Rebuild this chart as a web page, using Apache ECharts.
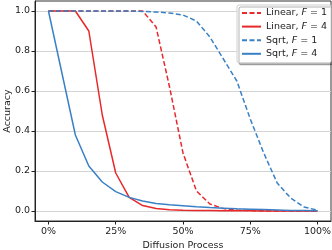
<!DOCTYPE html>
<html>
<head>
<meta charset="utf-8">
<script src="https://cdn.jsdelivr.net/npm/echarts@6/dist/echarts.min.js"></script>
<style>
html,body{margin:0;padding:0;background:#fff;}
#chart{width:332px;height:250px;}
</style>
</head>
<body>
<div id="chart"></div>
<script>
// Diffusion process (%)
var progress = [0,5,10,15,20,25,30,35,40,45,50,55,60,65,70,75,80,85,90,95,100];
var linearF1 = [1,1,1,1,1,1,1,1,0.92,0.62,0.29,0.10,0.035,0.012,0.005,0.002,0.001,0,0,0,0];
var linearF4 = [1,1,1,0.90,0.48,0.19,0.068,0.027,0.012,0.006,0.004,0.003,0.002,0.001,0.001,0.001,0,0,0,0,0];
var sqrtF1 = [1,1,1,1,1,1,1,0.998,0.995,0.99,0.98,0.95,0.87,0.76,0.65,0.46,0.29,0.14,0.065,0.02,0.004];
var sqrtF4 = [1,0.69,0.38,0.225,0.145,0.097,0.068,0.05,0.038,0.031,0.026,0.021,0.017,0.014,0.011,0.009,0.007,0.005,0.003,0.002,0.001];
var xTicks = [0,25,50,75,100];
var yTicks = [0,0.2,0.4,0.6,0.8,1.0];
var seriesNames = ['Linear, F = 1','Linear, F = 4','Sqrt, F = 1','Sqrt, F = 4'];

function pairs(ys){ return progress.map(function(x,i){ return [x, ys[i]]; }); }

var RED = '#e8282b', BLUE = '#3a80c6';
var FONT = 'DejaVu Sans';
var chart = echarts.init(document.getElementById('chart'), null, {renderer:'canvas'});
function mk(name, ys, color, dashed){
  return {
    name: name, type:'line', data: pairs(ys), symbol:'none', smooth:false,
    lineStyle:{color:color, width:1.5, type: dashed ? [5,2.5] : 'solid'},
    itemStyle:{color:color}, emphasis:{disabled:true}, animation:false
  };
}
chart.setOption({
  animation:false,
  textStyle:{fontFamily:FONT},
  grid:{left:35, right:1, top:1, bottom:29, containLabel:false, outerBoundsMode:'none',
    show:true, borderColor:'#333', borderWidth:1, backgroundColor:'transparent'},
  xAxis:{
    type:'value', min:-5, max:105,
    name:'Diffusion Process', nameLocation:'middle', nameGap:20, nameMoveOverlap:false,
    nameTextStyle:{fontSize:9.5, color:'#222', fontFamily:FONT},
    axisLine:{show:true, onZero:false, lineStyle:{color:'#222', width:1}},
    axisTick:{show:true, length:3.5, inside:false, customValues:xTicks, lineStyle:{color:'#222'}},
    axisLabel:{customValues:xTicks, fontSize:9.5, color:'#222', margin:6, fontFamily:FONT,
      formatter:function(v){return v+'%';}},
    splitLine:{show:false}
  },
  yAxis:{
    type:'value', min:-0.05, max:1.05,
    name:'Accuracy', nameLocation:'middle', nameGap:22, nameRotate:90, nameMoveOverlap:false,
    nameTextStyle:{fontSize:9.5, color:'#222', fontFamily:FONT},
    axisLine:{show:true, onZero:false, lineStyle:{color:'#222', width:1}},
    axisTick:{show:true, length:3.5, inside:false, customValues:yTicks, lineStyle:{color:'#222'}},
    axisLabel:{customValues:yTicks, fontSize:9.5, color:'#222', margin:5, fontFamily:FONT,
      formatter:function(v){return v.toFixed(1);}},
    splitLine:{show:true, lineStyle:{color:'#d4d4d4', width:1}}
  },
  legend:{
    orient:'vertical', left:237, top:5,
    padding:[3,4,4,4], itemWidth:19, itemHeight:10, itemGap:3.6,
    backgroundColor:'#fff', borderColor:'#cfcfcf', borderWidth:1, borderRadius:2,
    shadowColor:'rgba(0,0,0,0.3)', shadowOffsetX:2, shadowOffsetY:2, shadowBlur:0,
    itemStyle:{opacity:0},
    data: seriesNames,
    textStyle:{fontSize:9.5, color:'#222', fontFamily:FONT,
      rich:{a:{fontSize:9.5, color:'#222', fontFamily:FONT}, i:{fontSize:9.5, color:'#222', fontStyle:'italic', fontFamily:FONT}}},
    formatter:function(n){
      var parts = n.split('F');
      return '{a|'+parts[0]+'}{i|F}{a|'+parts[1]+'}';
    }
  },
  series:[
    mk(seriesNames[0], linearF1, RED, true),
    mk(seriesNames[1], linearF4, RED, false),
    mk(seriesNames[2], sqrtF1, BLUE, true),
    mk(seriesNames[3], sqrtF4, BLUE, false)
  ]
});
</script>
</body>
</html>
